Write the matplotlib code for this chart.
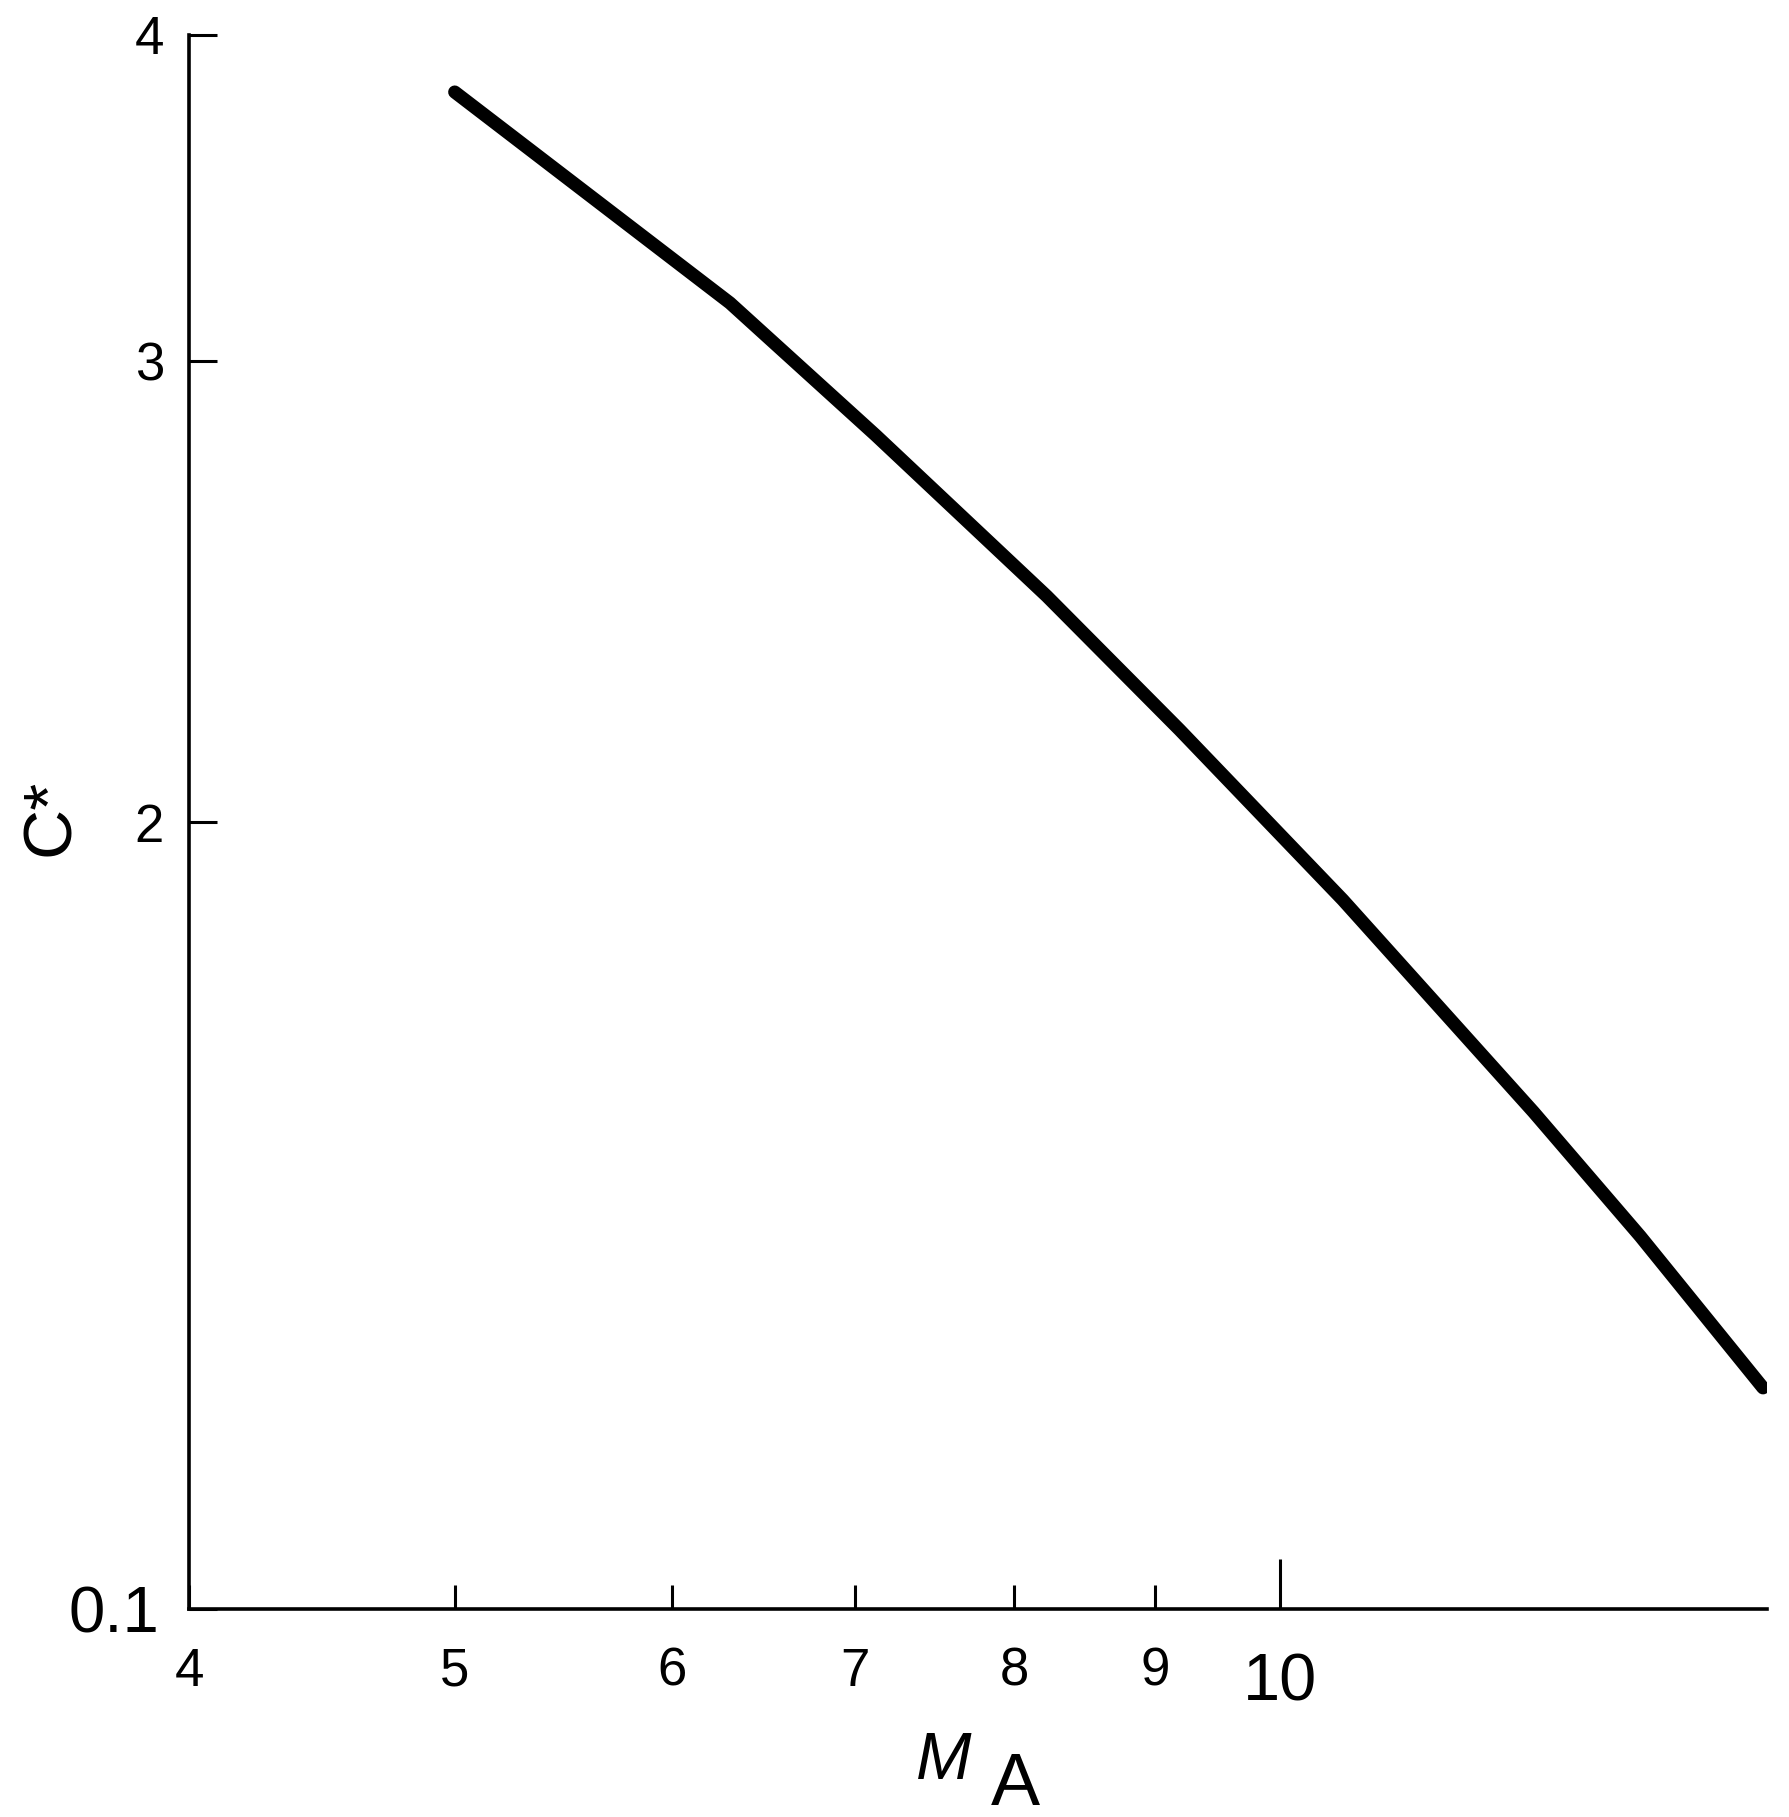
import numpy as np
import matplotlib
matplotlib.use("Agg")
import matplotlib.pyplot as plt
from matplotlib.scale import FuncScale

plt.rcParams['font.family'] = ['Liberation Sans', 'DejaVu Sans']

# curve
m_a = [5.0, 6.3, 7.12, 8.22, 9.19, 10.54, 12.37, 13.53, 15.0]
c_star = [3.825, 3.178, 2.839, 2.490, 2.200, 1.812, 1.300, 1.000, 0.634]

# axis ticks
x_ticks = [4, 5, 6, 7, 8, 9]
x_labels = ['4', '5', '6', '7', '8', '9']
y_ticks = [0.1, 2, 3, 4]
y_labels = ['0.1', '2', '3', '4']

# the y axis of the original is not evenly spaced: tick value -> height
y_knots = [-10.0, 0.1, 2.0, 3.0, 4.0, 14.0]
y_place = [-4140.0, 0.0, 787.0, 1248.0, 1574.0, 4800.0]


def fwd(v):
    return np.interp(v, y_knots, y_place)


def inv(p):
    return np.interp(p, y_place, y_knots)


fig = plt.figure(figsize=(17.9, 18.17), dpi=100)
ax = fig.add_axes([0.10559, 0.11447, 0.88156, 0.86627])

ax.plot(m_a, c_star, color='black', lw=9.5, solid_capstyle='round',
        solid_joinstyle='round')

ax.set_xscale('log')
ax.set_yscale(FuncScale(ax.yaxis, (fwd, inv)))
ax.set_xlim(4, 15.05)
ax.set_ylim(0.1, 4)

ax.spines['top'].set_visible(False)
ax.spines['right'].set_visible(False)
for s in ['left', 'bottom']:
    ax.spines[s].set_linewidth(2.6)

ax.xaxis.set_minor_locator(matplotlib.ticker.NullLocator())
ax.set_xticks(x_ticks, labels=x_labels)
ax.set_xticks([10], labels=['10'], minor=True)
ax.set_yticks(y_ticks, labels=y_labels)
ax.yaxis.set_minor_locator(matplotlib.ticker.NullLocator())

ax.tick_params(axis='x', which='major', direction='in', length=17, width=2.2,
               pad=27, labelsize=38)
ax.tick_params(axis='x', which='minor', direction='in', length=36, width=2.2,
               pad=31, labelsize=48)
ax.tick_params(axis='y', which='major', direction='in', length=20, width=2.2,
               pad=18, labelsize=38)
ax.get_yticklabels()[0].set_fontsize(47)
ax.get_yticklabels()[0].set_x(-0.003)

# axis titles
fig.text(0.527, 0.030, 'M', fontsize=48, style='italic', ha='center', va='center')
fig.text(0.567, 0.0175, 'A', fontsize=53, ha='center', va='center')
fig.text(0.0287, 1 - 817 / 1817, 'C*', fontsize=50, rotation=90,
         ha='center', va='center')

fig.savefig('out.png', dpi=100, facecolor='white')
